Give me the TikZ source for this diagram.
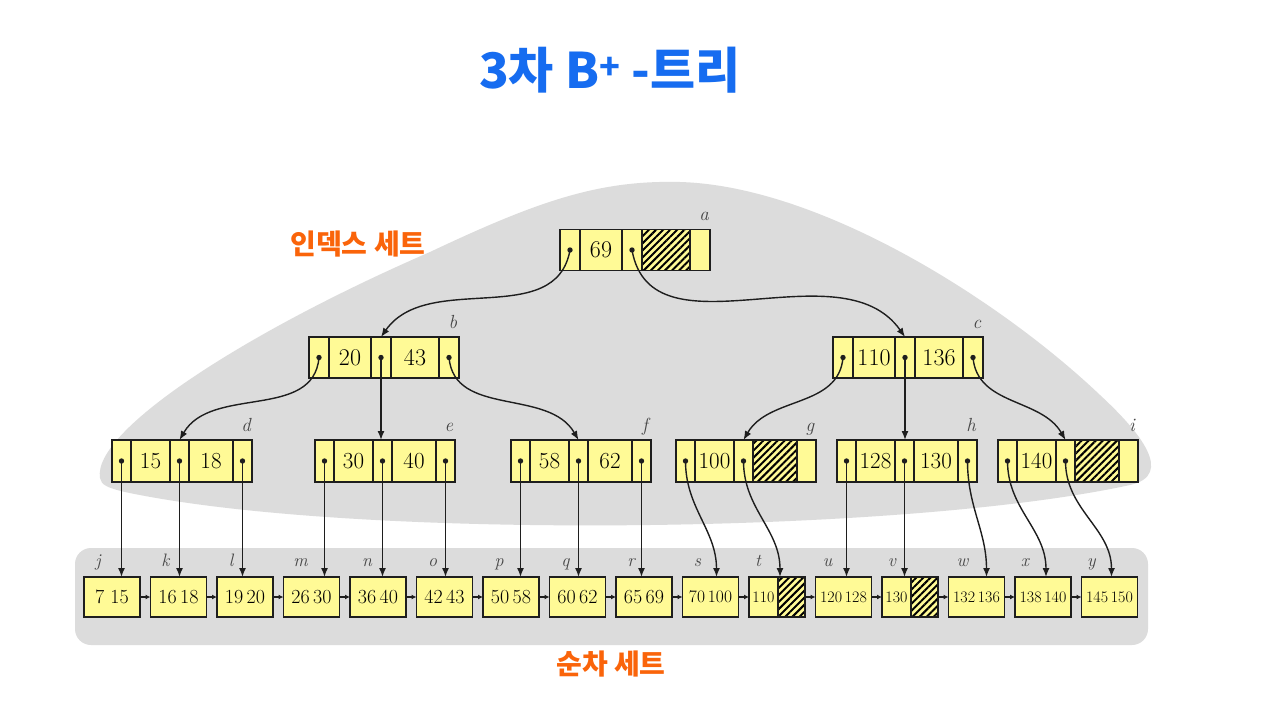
\documentclass[tikz,border=0pt]{standalone}
\usepackage{fontspec}
\newfontfamily\kr{Noto Sans CJK KR}
\usetikzlibrary{arrows.meta,patterns.meta}
\definecolor{nodey}{RGB}{255,250,150}
\definecolor{blobg}{RGB}{220,220,220}
\definecolor{ttlblue}{RGB}{22,108,240}
\definecolor{lblor}{RGB}{250,100,10}
\definecolor{edgec}{RGB}{30,30,30}
\definecolor{lblc}{RGB}{70,70,70}
\tikzset{
  cellbase/.style={draw=edgec,line width=1.9pt,fill=nodey,inner sep=0pt,outer sep=0pt,anchor=west},
  cellA/.style={cellbase,minimum height=41pt,font=\fontsize{24}{26}\selectfont},
  cellB/.style={cellbase,minimum height=42pt,font=\fontsize{23}{25}\selectfont},
  hatchcell/.style={preaction={fill=nodey},pattern={Lines[angle=45,distance=5pt,line width=2pt]},pattern color=black},
  leaf/.style={cellbase,minimum width=56pt,minimum height=40pt,font=\fontsize{20}{22}\selectfont},
  leafm/.style={leaf,font=\fontsize{17.5}{19}\selectfont},
  leafs/.style={leaf,font=\fontsize{16}{18}\selectfont},
  ptr/.style={draw=edgec,line width=1.4pt,-{Latex[length=9pt,width=7pt]}},
  lnk/.style={draw=edgec,line width=1.4pt,-{Latex[length=5pt,width=5pt]}},
  dot/.style={fill=edgec},
  ilbl/.style={font=\fontsize{19}{21}\selectfont\itshape,text=lblc,anchor=base,inner sep=0pt},
  kor/.style={font=\kr\bfseries\fontsize{28}{32}\selectfont,text=lblor},
}
% #1 name, #2 pos, #3 style, #4 ptr width, #5 key1 width, #6 key2 width, #7 key1, #8 extra style cell 4, #9 key2
\newcommand\ixnode[9]{%
  \node[#3,minimum width=#4] (#1-1) at #2 {};
  \node[#3,minimum width=#5] (#1-2) at (#1-1.east) {#7};
  \node[#3,minimum width=#4] (#1-3) at (#1-2.east) {};
  \node[#3,minimum width=#6,#8] (#1-4) at (#1-3.east) {#9};
  \node[#3,minimum width=#4] (#1-5) at (#1-4.east) {};
}
\begin{document}
\begin{tikzpicture}[x=1pt,y=-1pt]
\useasboundingbox (0,0) rectangle (1280,702);
\fill[white] (0,0) rectangle (1280,702);
% background areas
\fill[blobg] (100,478) .. controls (92,430) and (250,330) .. (430,252)
  .. controls (540,200) and (600,180) .. (680,182)
  .. controls (820,186) and (1000,300) .. (1100,395)
  .. controls (1140,432) and (1175,475) .. (1130,485)
  .. controls (900,535) and (350,540) .. (125,492)
  .. controls (108,488) and (101,485) .. (100,478) -- cycle;
\fill[blobg, rounded corners=16pt] (75,548) rectangle (1148,645);
% texts
\node[font=\kr\bfseries\fontsize{49}{56}\selectfont, text=ttlblue] (title) at (610,70) {3차 B\textsuperscript{+} -트리};
\node[kor] (idxlbl) at (358,244) {인덱스 세트};
\node[kor] (seqlbl) at (611,664) {순차 세트};
% index nodes
\ixnode{a}{(560,250)}{cellA}{20pt}{42pt}{48pt}{69}{hatchcell}{}
\ixnode{b}{(309,357.5)}{cellA}{20pt}{42pt}{48pt}{20}{}{43}
\ixnode{c}{(833,357.5)}{cellA}{20pt}{42pt}{48pt}{110}{}{136}
\ixnode{d}{(112,461)}{cellB}{19pt}{39pt}{44pt}{15}{}{18}
\ixnode{e}{(315,461)}{cellB}{19pt}{39pt}{44pt}{30}{}{40}
\ixnode{f}{(511,461)}{cellB}{19pt}{39pt}{44pt}{58}{}{62}
\ixnode{g}{(676,461)}{cellB}{19pt}{39pt}{44pt}{100}{hatchcell}{}
\ixnode{h}{(837,461)}{cellB}{19pt}{39pt}{44pt}{128}{}{130}
\ixnode{i}{(998,461)}{cellB}{19pt}{39pt}{44pt}{140}{hatchcell}{}
\foreach \n in {a,b,c,d,e,f,g,h,i}
  \node[ilbl] (l\n) at ([xshift=-6pt,yshift=9pt]\n-5.north east) {\n};
% leaves
\node[leaf] (j) at (84,597) {7\hspace{0.3em}15};
\node[leaf] (k) at (150.5,597) {16\,18};
\node[leaf] (l) at (217,597) {19\,20};
\node[leaf] (m) at (283.5,597) {26\,30};
\node[leaf] (n) at (350,597) {36\,40};
\node[leaf] (o) at (416.5,597) {42\,43};
\node[leaf] (p) at (483,597) {50\,58};
\node[leaf] (q) at (549.5,597) {60\,62};
\node[leaf] (r) at (616,597) {65\,69};
\node[leafm] (s) at (682.5,597) {70\,100};
\node[leafs,minimum width=29pt] (t) at (749,597) {110};
\node[leafs,minimum width=27pt,hatchcell] (t2) at (t.east) {};
\node[leafs] (u) at (815.5,597) {120\,128};
\node[leafs,minimum width=29pt] (v) at (882,597) {130};
\node[leafs,minimum width=27pt,hatchcell] (v2) at (v.east) {};
\node[leafs] (w) at (948.5,597) {132\,136};
\node[leafs] (x) at (1015,597) {138\,140};
\node[leafs] (y) at (1081.5,597) {145\,150};
\foreach \n/\dx in {j/14,k/15,l/14,m/17,n/17,o/16,p/16,q/16,r/15,s/15,t/9,u/12,v/10,w/14,x/10,y/10}
  \node[ilbl,font=\fontsize{18}{20}\selectfont\itshape] (l\n) at ([xshift=\dx pt,yshift=11pt]\n.north west) {\n};
% leaf links
\draw[lnk] (j) -- (k);
\draw[lnk] (k) -- (l);
\draw[lnk] (l) -- (m);
\draw[lnk] (m) -- (n);
\draw[lnk] (n) -- (o);
\draw[lnk] (o) -- (p);
\draw[lnk] (p) -- (q);
\draw[lnk] (q) -- (r);
\draw[lnk] (r) -- (s);
\draw[lnk] (s) -- (t);
\draw[lnk] (t2) -- (u);
\draw[lnk] (u) -- (v);
\draw[lnk] (v2) -- (w);
\draw[lnk] (w) -- (x);
\draw[lnk] (x) -- (y);
% pointer dots
\foreach \p in {a-1,a-3,b-1,b-3,b-5,c-1,c-3,c-5,d-1,d-3,d-5,e-1,e-3,e-5,f-1,f-3,f-5,g-1,g-3,h-1,h-3,h-5,i-1,i-3}
  \fill[dot] (\p.center) circle (2.7pt);
% pointers
\draw[ptr] (a-1.center) to[out=-100,in=55] (b-3.north);
\draw[ptr] (a-3.center) to[out=-80,in=125] (c-3.north);
\draw[ptr] (b-1.center) to[out=-95,in=60] (d-3.north);
\draw[ptr] (b-3.center) -- (b-3.center |- e-3.north);
\draw[ptr] (b-5.center) to[out=-85,in=120] (f-3.north);
\draw[ptr] (c-1.center) to[out=-95,in=60] (g-3.north);
\draw[ptr] (c-3.center) -- (c-3.center |- h-3.north);
\draw[ptr] (c-5.center) to[out=-85,in=120] (i-3.north);
\foreach \s/\t in {d-1/j,d-3/k,d-5/l,e-1/m,e-3/n,e-5/o,f-1/p,f-3/q,f-5/r,h-1/u,h-3/v}
  \draw[ptr] (\s.center) -- (\s.center |- \t.north);
\draw[ptr] (g-1.center) to[out=-90,in=90] ([xshift=6pt]s.north);
\draw[ptr] (g-3.center) to[out=-90,in=90] ([xshift=2pt]t.north east);
\draw[ptr] (h-5.center) to[out=-90,in=90] ([xshift=10pt]w.north);
\draw[ptr] (i-1.center) to[out=-90,in=90] ([xshift=3pt]x.north);
\draw[ptr] (i-3.center) to[out=-90,in=90] ([xshift=2pt]y.north);
\end{tikzpicture}
\end{document}
